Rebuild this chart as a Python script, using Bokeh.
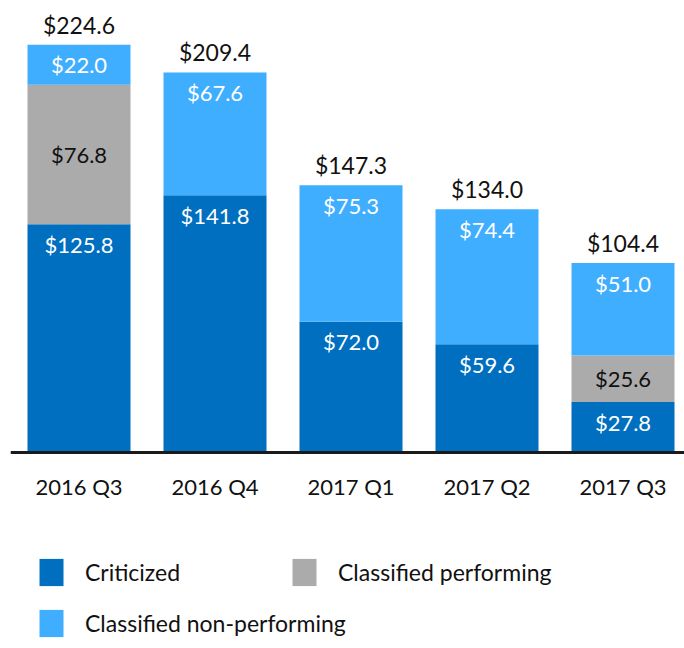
from bokeh.plotting import figure
from bokeh.models import ColumnDataSource, Range1d, FixedTicker, Legend, LegendItem
from bokeh.core.properties import value
from bokeh.embed import file_html
from bokeh.resources import INLINE

# ---- data ----
quarters = ["2016 Q3", "2016 Q4", "2017 Q1", "2017 Q2", "2017 Q3"]
criticized = [125.8, 141.8, 72.0, 59.6, 27.8]
classified_performing = [76.8, 0.0, 0.0, 0.0, 25.6]
classified_nonperforming = [22.0, 67.6, 75.3, 74.4, 51.0]
totals = [224.6, 209.4, 147.3, 134.0, 104.4]

C_CRIT = "#006FC0"
C_PERF = "#ABABAB"
C_NONP = "#3FAEFF"
FONT = "Lato"
FS = "22px"

x = list(range(len(quarters)))
crit_top = criticized
perf_top = [c + p for c, p in zip(criticized, classified_performing)]
nonp_top = [pt + n for pt, n in zip(perf_top, classified_nonperforming)]

src = ColumnDataSource(dict(
    x=x,
    crit_top=crit_top,
    perf_top=perf_top,
    nonp_top=nonp_top,
    crit_lbl=["$%.1f" % v for v in criticized],
    nonp_lbl=["$%.1f" % v for v in classified_nonperforming],
    tot_lbl=["$%.1f" % v for v in totals],
    tot=totals,
))

perf_idx = [i for i, v in enumerate(classified_performing) if v > 0]
perf_src = ColumnDataSource(dict(
    x=[x[i] for i in perf_idx],
    y=[criticized[i] + classified_performing[i] / 2 for i in perf_idx],
    lbl=["$%.1f" % classified_performing[i] for i in perf_idx],
))

W, H = 684, 648
LEFT = 10
px_per_unit = 136.0
start = -(78.5 - LEFT) / px_per_unit
py = 1.815
base = 452

p = figure(width=W, height=H, output_backend="svg", toolbar_location=None,
           x_range=Range1d(start, start + (W - LEFT) / px_per_unit),
           y_range=Range1d(-(H - base) / py, base / py),
           y_axis_location=None,
           min_border_left=LEFT, min_border_right=0, min_border_top=0,
           min_border_bottom=0)
p.outline_line_color = None
p.xgrid.visible = False
p.ygrid.visible = False
p.background_fill_color = "white"
p.border_fill_color = "white"

bw = 103 / px_per_unit
r_crit = p.vbar(x="x", bottom=0, top="crit_top", width=bw, source=src,
                fill_color=C_CRIT, line_color=None)
r_perf = p.vbar(x="x", bottom="crit_top", top="perf_top", width=bw, source=src,
                fill_color=C_PERF, line_color=None)
r_nonp = p.vbar(x="x", bottom="perf_top", top="nonp_top", width=bw, source=src,
                fill_color=C_NONP, line_color=None)

common = dict(text_font=value(FONT), text_font_size=FS, text_align="center",
              text_baseline="middle")
p.text(x="x", y="crit_top", text="crit_lbl", source=src, text_color="white",
       y_offset=20, **common)
p.text(x="x", y="nonp_top", text="nonp_lbl", source=src, text_color="white",
       y_offset=20, **common)
p.text(x="x", y="y", text="lbl", source=perf_src, text_color="#111111",
       y_offset=0, **common)
p.text(x="x", y="tot", text="tot_lbl", source=src, text_color="#111111",
       text_baseline="middle", y_offset=-20,
       text_font=value(FONT), text_font_size="23px", text_align="center")

ax = p.xaxis[0]
ax.fixed_location = 0
ax.ticker = FixedTicker(ticks=x)
ax.major_label_overrides = {i: q for i, q in zip(x, quarters)}
ax.major_tick_line_color = None
ax.minor_tick_line_color = None
ax.major_tick_out = 0
ax.major_tick_in = 0
ax.axis_line_width = 3
ax.axis_line_color = "#1a1a1a"
ax.major_label_text_font = FONT
ax.major_label_text_font_size = FS
ax.major_label_text_color = "#111111"
ax.major_label_standoff = 20

leg_style = dict(orientation="horizontal", padding=0, margin=0, spacing=0,
                 label_standoff=19, glyph_width=30, glyph_height=34,
                 label_height=34,
                 border_line_color=None, background_fill_alpha=0,
                 label_text_font=FONT, label_text_font_size="23px",
                 label_text_color="#111111")
leg1 = Legend(items=[LegendItem(label="Criticized", renderers=[r_crit]),
                     LegendItem(label="Classified performing", renderers=[r_perf])],
              location=(36 - LEFT, H - 589), label_width=204, **leg_style)
leg2 = Legend(items=[LegendItem(label="Classified non-performing", renderers=[r_nonp])],
              location=(36 - LEFT, H - 640), **leg_style)
p.add_layout(leg1)
p.add_layout(leg2)

open("out.html", "w").write(file_html(p, INLINE))
